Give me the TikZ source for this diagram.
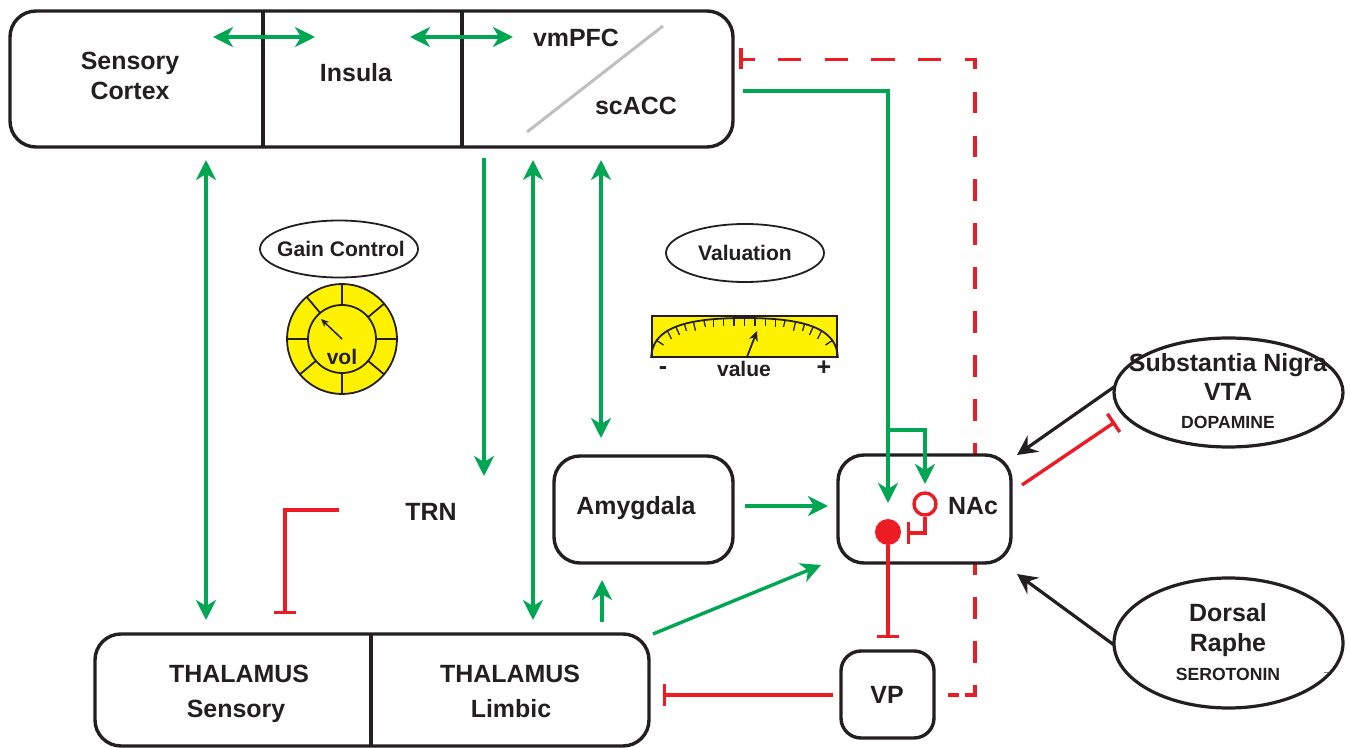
\documentclass[tikz,border=0pt]{standalone}
\usepackage{fontspec}
\setmainfont{Liberation Sans}
\usetikzlibrary{arrows.meta,shapes.geometric}
\definecolor{gr}{HTML}{00A651}
\definecolor{rd}{HTML}{ED1C24}
\definecolor{yl}{HTML}{FFF200}
\definecolor{bk}{HTML}{231F20}
\newcommand\pxu{0.75pt}
\newcommand\fA{\fontsize{18.7pt}{22.5pt}\selectfont\bfseries}
\newcommand\fB{\fontsize{15.8pt}{20pt}\selectfont\bfseries}
\newcommand\fC{\fontsize{13.2pt}{16pt}\selectfont\bfseries}
\tikzset{
  x=0.75pt,y=-0.75pt,
  lbl/.style={text=bk,font=\fA,align=center,inner sep=0pt},
  lblm/.style={text=bk,font=\fB,align=center,inner sep=0pt},
  lbls/.style={text=bk,font=\fC,align=center,inner sep=0pt},
  box/.style={draw=bk,line width=3.4*\pxu,rounded corners=26*\pxu,fill=white,inner sep=0pt},
  oval/.style={ellipse,draw=bk,fill=white,inner sep=0pt},
  gtip/.tip={Stealth[length=20*\pxu,width=20*\pxu,inset=6*\pxu]},
  ktip/.tip={Stealth[length=20*\pxu,width=20*\pxu,inset=7*\pxu]},
  bartip/.tip={Bar[width=22*\pxu,line width=3.4*\pxu]},
  garrow/.style={draw=gr,line width=3.4*\pxu,-{gtip[fill=gr]}},
  gboth/.style={draw=gr,line width=3.4*\pxu,{gtip[fill=gr]}-{gtip[fill=gr]}},
  rbar/.style={draw=rd,line width=3.4*\pxu,-{bartip}},
  rline/.style={draw=rd,line width=3.4*\pxu},
  karrow/.style={draw=bk,line width=3.2*\pxu,-{ktip[fill=bk]}},
  divider/.style={draw=bk,line width=3.2*\pxu},
  tick/.style={draw=bk,line width=1.3*\pxu},
}
\begin{document}
\begin{tikzpicture}
\useasboundingbox (0,0) rectangle (1350,748);
\fill[white] (0,0) rectangle (1350,748);
% dashed feedback (runs behind the NAc box)
\coordinate (dD) at (741,59.5);
\coordinate (dC) at (975,59.5);
\coordinate (dCb) at (975,69);
\coordinate (dU1) at (975,91.7);
\coordinate (dU2) at (975,455);
\coordinate (dL1) at (975,553);
\coordinate (dL2) at (975,695);
\coordinate (dL3) at (965,695);
\coordinate (dS1) at (959,695);
\coordinate (dS2) at (948,695);
\draw[rline,dash pattern=on 23.3*\pxu off 23.37*\pxu,dash phase=9.6*\pxu] (dD) -- (dC) -- (dCb);
\draw[rline,dash pattern=on 21.8*\pxu off 22.1*\pxu] (dU1) -- (dU2);
\draw[rline,dash pattern=on 22*\pxu off 21.9*\pxu] (dL1) -- (dL2) -- (dL3);
\draw[rline] (dS1) -- (dS2);
\coordinate (dE) at (741,48);\coordinate (dF) at (741,69);
\draw[rline] (dE) -- (dF);
% boxes
\node[box,minimum width=723*\pxu,minimum height=136*\pxu] (top) at (371.5,79) {};
\node[box,minimum width=554*\pxu,minimum height=112*\pxu] (thal) at (372,690) {};
\node[box,minimum width=179*\pxu,minimum height=107*\pxu] (amy) at (643.5,509.5) {};
\node[box,minimum width=173*\pxu,minimum height=108*\pxu] (nac) at (924.5,509) {};
\node[box,minimum width=93*\pxu,minimum height=87*\pxu,rounded corners=20*\pxu] (vp) at (887.5,694.5) {};
% dividers
\coordinate (t1a) at (263,11);\coordinate (t1b) at (263,147);
\coordinate (t2a) at (462,11);\coordinate (t2b) at (462,147);
\coordinate (th1a) at (371,634);\coordinate (th1b) at (371,746);
\draw[divider] (t1a) -- (t1b);
\draw[divider] (t2a) -- (t2b);
\draw[divider] (th1a) -- (th1b);
\coordinate (gy1) at (527,132);\coordinate (gy2) at (663,26);
\draw[draw=black!25,line width=3*\pxu] (gy1) -- (gy2);
% labels
\node[lbl] (sc) at (130,76) {Sensory\\Cortex};
\node[lbl] (ins) at (356,73) {Insula};
\node[lbl] (vm) at (576,38) {vmPFC};
\node[lbl] (sca) at (636,106) {scACC};
\node[lbl] (trn) at (431,512) {TRN};
\node[lbl] (amyl) at (636,508) {Amygdala};
\node[lbl] (nacl) at (973,506) {NAc};
\node[lbl] (vpl) at (887,695) {VP};
\node[lbl] (ths) at (239,674) {THALAMUS};
\node[lbl] (ths2) at (236,711) {Sensory};
\node[lbl] (thl) at (510,674) {THALAMUS};
\node[lbl] (thl2) at (511,709) {Limbic};
% gain control
\node[oval,line width=1.8*\pxu,minimum width=158*\pxu,minimum height=57*\pxu] (gain) at (339,249) {};
\node[lblm] (gainl) at (341,249) {Gain Control};
\node[circle,draw=bk,fill=yl,line width=1.8*\pxu,minimum size=110*\pxu,inner sep=0pt] (dial) at (342,339) {};
\foreach \a in {0,40,90,140,180,230,270,320}
  \draw[draw=bk,line width=1.8*\pxu] (dial.center) ++(\a:34 and 34) -- ++(\a:21 and 21);
\node[circle,draw=bk,fill=yl,line width=1.8*\pxu,minimum size=68*\pxu,inner sep=0pt] (dialin) at (342,339) {};
\coordinate (pa) at (342,339);\coordinate (pb) at (321,319);
\draw[draw=bk,line width=1.5*\pxu,-{Stealth[length=8*\pxu,width=7*\pxu]}] (pa) -- (pb);
\node[lblm] (vol) at (342,357) {vol};
% valuation
\node[oval,line width=1.8*\pxu,minimum width=158*\pxu,minimum height=58*\pxu] (val) at (745,253) {};
\node[lblm] (vall) at (745,253) {Valuation};
\node[rectangle,draw=bk,fill=yl,line width=1.8*\pxu,minimum width=185*\pxu,minimum height=41*\pxu,inner sep=0pt] (meter) at (744.5,336.5) {};
\draw[draw=bk,line width=1.8*\pxu] (meter.south west) .. controls (652,328) and (685,318) .. (744.5,318) .. controls (804,318) and (837,328) .. (meter.south east);
\foreach \dx/\ya/\dxb/\yb in {88.5/340/81/345,77/331/73/339,68.7/326.7/65/335,60/324.3/58/331,51/322.3/49/330.7,40.5/321/39/327,31/320/31/327,21/319/21/326,10.5/319/10.5/326}{
  \draw[tick] (744.5-\dx,\ya) -- (744.5-\dxb,\yb);
  \draw[tick] (744.5+\dx,\ya) -- (744.5+\dxb,\yb);
}
\draw[tick] (744.5,318.5) -- (744.5,326);
\coordinate (ma) at (747,357);\coordinate (mb) at (757,331);
\draw[draw=bk,line width=1.8*\pxu,-{Stealth[length=10*\pxu,width=9*\pxu]}] (ma) -- (mb);
\node[lbl] (mm) at (663,371) {-};
\node[lblm] (mv) at (744,369) {value};
\node[lbl] (mp) at (824,368) {+};
% green connectors
\coordinate (g1a) at (213,37);\coordinate (g1b) at (315,37);
\coordinate (g2a) at (410,37);\coordinate (g2b) at (513,37);
\coordinate (g3a) at (206,160);\coordinate (g3b) at (206,620);
\coordinate (g4a) at (533,160);\coordinate (g4b) at (533,620);
\coordinate (g5a) at (601,160);\coordinate (g5b) at (601,438);
\coordinate (g6a) at (484,158);\coordinate (g6b) at (484,476);
\coordinate (g7a) at (602,622);\coordinate (g7b) at (602,580);
\coordinate (g8a) at (745,506);\coordinate (g8b) at (828,506);
\coordinate (g9a) at (653,634);\coordinate (g9b) at (821,565);
\coordinate (gmA) at (743,91);\coordinate (gmB) at (888,91);\coordinate (gmC) at (888,503);
\coordinate (gbA) at (888,430);\coordinate (gbB) at (925,430);\coordinate (gbC) at (925,484);
\draw[gboth] (g1a) -- (g1b);
\draw[gboth] (g2a) -- (g2b);
\draw[gboth] (g3a) -- (g3b);
\draw[gboth] (g4a) -- (g4b);
\draw[gboth] (g5a) -- (g5b);
\draw[garrow] (g6a) -- (g6b);
\draw[garrow] (g7a) -- (g7b);
\draw[garrow] (g8a) -- (g8b);
\draw[garrow] (g9a) -- (g9b);
\draw[garrow] (gmA) -- (gmB) -- (gmC);
\draw[garrow] (gbA) -- (gbB) -- (gbC);
% red connectors
\coordinate (rtA) at (339,510);\coordinate (rtB) at (285,510);\coordinate (rtC) at (285,614);
\draw[rbar] (rtA) -- (rtB) -- (rtC);
\node[circle,fill=rd,minimum size=26*\pxu,inner sep=0pt] (fc) at (888,532) {};
\node[circle,draw=rd,fill=white,line width=3.4*\pxu,minimum size=22*\pxu,inner sep=0pt] (oc) at (925,504) {};
\coordinate (rcB) at (925,533);\coordinate (rcC) at (907,533);
\draw[rbar] (oc.south) -- (rcB) -- (rcC);
\coordinate (rvA) at (888,638);
\draw[rbar] (fc.south) -- (rvA);
\coordinate (rtA2) at (833,695);\coordinate (rtB2) at (663,695);
\draw[rbar] (rtA2) -- (rtB2);
% source ovals
\node[oval,line width=3.2*\pxu,minimum width=229*\pxu,minimum height=109*\pxu] (sn) at (1228.5,392.5) {};
\node[lbl] (sn1) at (1228,365) {Substantia Nigra};
\node[lbl] (sn2) at (1228,392) {VTA};
\node[lbls] (sn3) at (1228,422) {DOPAMINE};
\node[oval,line width=3.2*\pxu,minimum width=229*\pxu,minimum height=130*\pxu] (dr) at (1228.5,643) {};
\node[lbl] (dr1) at (1228,613) {Dorsal};
\node[lbl] (dr2) at (1228,645) {Raphe};
\node[lbls] (dr3) at (1228,674) {SEROTONIN};
\coordinate (snA) at (1114,387);\coordinate (snB) at (1017,455);
\coordinate (srA) at (1022,485);\coordinate (srB) at (1115,422);
\coordinate (drA) at (1114,645);\coordinate (drB) at (1017,574);
\draw[karrow] (snA) -- (snB);
\draw[rbar] (srA) -- (srB);
\draw[karrow] (drA) -- (drB);
\coordinate (ma1) at (1324,672);\coordinate (ma2) at (1328,672);
\draw[draw=black!50,line width=0.8*\pxu] (ma1) -- (ma2);
\end{tikzpicture}
\end{document}
